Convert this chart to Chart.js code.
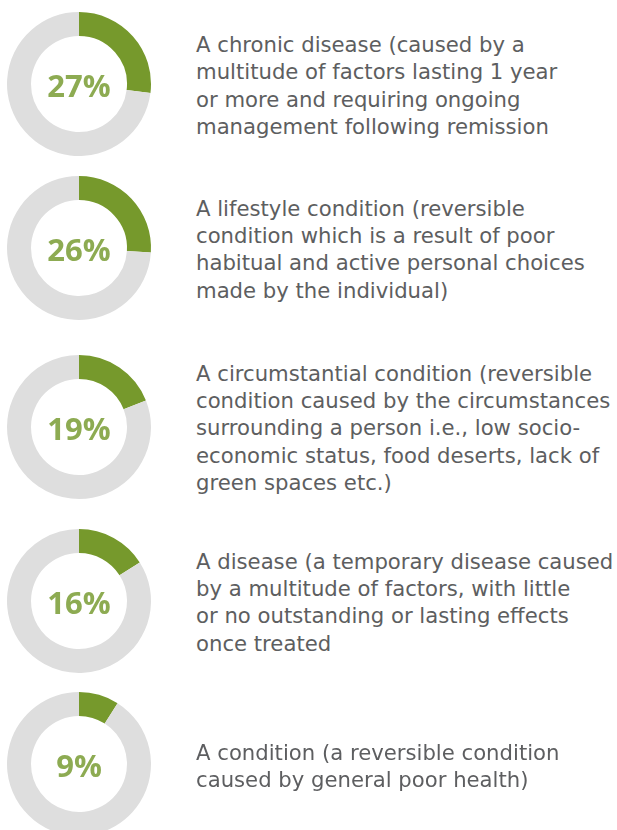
<!DOCTYPE html>
<html>
<head>
<meta charset="utf-8">
<script src="https://cdn.jsdelivr.net/npm/chart.js@4"></script>
<style>
  html, body { margin: 0; padding: 0; background: #ffffff; }
  body { width: 617px; height: 830px; position: relative; overflow: hidden; font-family: "Open Sans", "Noto Sans", sans-serif; }
  .donut { position: absolute; width: 150px; height: 150px; }
  .pct { position: absolute; width: 120px; text-align: center; color: #8dab52; font-weight: 700; font-size: 31px; line-height: 31px; transform: translate(-50%, -50%); letter-spacing: 0px; }
  .desc { position: absolute; left: 196px; width: 421px; color: #5d5e60; font-family: "DejaVu Sans", sans-serif; font-size: 21.2px; line-height: 27.4px; transform: translateY(-50%); white-space: nowrap; }
</style>
</head>
<body>
<script>
// ---- data ----
const categories = [
  "A chronic disease",
  "A lifestyle condition",
  "A circumstantial condition",
  "A disease",
  "A condition"
];
const percentages = [27, 26, 19, 16, 9];
const descriptions = [
  ["A chronic disease (caused by a", "multitude of factors lasting 1 year", "or more and requiring ongoing", "management following remission"],
  ["A lifestyle condition (reversible", "condition which is a result of poor", "habitual and active personal choices", "made by the individual)"],
  ["A circumstantial condition (reversible", "condition caused by the circumstances", "surrounding a person i.e., low socio-", "economic status, food deserts, lack of", "green spaces etc.)"],
  ["A disease (a temporary disease caused", "by a multitude of factors, with little", "or no outstanding or lasting effects", "once treated"],
  ["A condition (a reversible condition", "caused by general poor health)"]
];

// ---- layout ----
const centerX = 79;
const centersY = [84, 247.5, 426.5, 600.5, 764];
const SIZE = 150;

percentages.forEach((p, i) => {
  const cy = centersY[i];
  const wrap = document.createElement('div');
  wrap.className = 'donut';
  wrap.style.left = (centerX - SIZE / 2) + 'px';
  wrap.style.top = (cy - SIZE / 2) + 'px';
  const cv = document.createElement('canvas');
  cv.width = SIZE; cv.height = SIZE;
  wrap.appendChild(cv);
  document.body.appendChild(wrap);

  new Chart(cv, {
    type: 'doughnut',
    data: {
      labels: [categories[i], 'Other'],
      datasets: [{
        data: [p, 100 - p],
        backgroundColor: ['#76992c', '#dedede'],
        borderWidth: 0,
        hoverOffset: 0
      }]
    },
    options: {
      responsive: false,
      animation: false,
      radius: 72,
      cutout: 50,
      rotation: 0,
      layout: { padding: 0 },
      plugins: { legend: { display: false }, tooltip: { enabled: false } },
      events: []
    }
  });

  const label = document.createElement('div');
  label.className = 'pct';
  label.style.left = centerX + 'px';
  label.style.top = (cy + 1) + 'px';
  label.textContent = p + '%';
  document.body.appendChild(label);

  const d = document.createElement('div');
  d.className = 'desc';
  d.style.top = (cy + 2) + 'px';
  descriptions[i].forEach((line, k) => {
    if (k) d.appendChild(document.createElement('br'));
    d.appendChild(document.createTextNode(line));
  });
  document.body.appendChild(d);
});
</script>
</body>
</html>
